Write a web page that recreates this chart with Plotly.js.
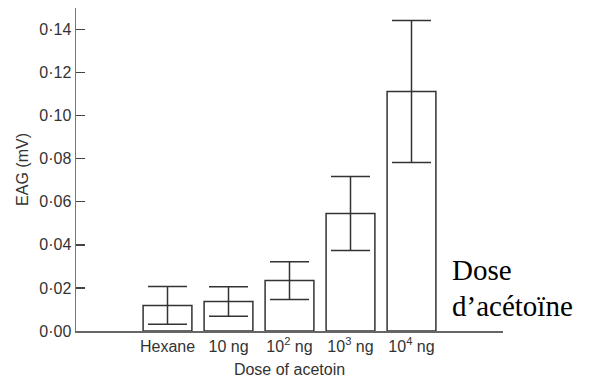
<!DOCTYPE html>
<html>
<head>
<meta charset="utf-8">
<script src="https://cdn.plot.ly/plotly-3.0.1.min.js"></script>
<style>html,body{margin:0;padding:0;background:#fff}#chart{width:597px;height:378px}</style>
</head>
<body>
<div id="chart"></div>
<script>
const categories = ["Hexane", "10 ng", "10<sup>2</sup> ng", "10<sup>3</sup> ng", "10<sup>4</sup> ng"];
const positions = [1, 2, 3, 4, 5];
const eagMean = [0.0119, 0.0137, 0.0234, 0.0546, 0.1112];
const eagError = [0.0088, 0.0068, 0.0088, 0.0172, 0.0330];
const yTickVals = [0, 0.02, 0.04, 0.06, 0.08, 0.10, 0.12, 0.14];
const yTickText = ["0·00", "0·02", "0·04", "0·06", "0·08", "0·10", "0·12", "0·14"];

const trace = {
  type: "bar",
  x: positions,
  y: eagMean,
  width: 0.8,
  marker: {color: "#ffffff", line: {color: "#333333", width: 1.5}},
  error_y: {type: "data", array: eagError, visible: true, color: "#333333", thickness: 1.5, width: 19.5},
  hoverinfo: "none"
};

const layout = {
  width: 597, height: 378,
  margin: {l: 76, r: 94, t: 8, b: 47, pad: 0},
  paper_bgcolor: "#ffffff", plot_bgcolor: "#ffffff",
  showlegend: false,
  font: {family: "Liberation Sans, Arial, sans-serif", color: "#333333", size: 16},
  xaxis: {
    range: [-0.5, 6.5],
    tickvals: positions, ticktext: categories,
    showgrid: false, zeroline: false,
    showline: true, linecolor: "#666666", linewidth: 1.5,
    ticks: "",
    tickfont: {size: 16, color: "#333333"},
    title: {text: "Dose of acetoin", font: {size: 16, color: "#333333"}, standoff: 10}
  },
  yaxis: {
    range: [0, 0.15],
    tickvals: yTickVals, ticktext: yTickText,
    showgrid: false, zeroline: false,
    showline: true, linecolor: "#777777", linewidth: 1.5,
    ticks: "inside", ticklen: 9, tickwidth: 1.3, tickcolor: "#444444",
    tickfont: {size: 16, color: "#333333"},
    ticklabelstandoff: 0,
    title: {text: "EAG (mV)", font: {size: 16, color: "#333333"}, standoff: 6}
  },
  annotations: [
    {text: "Dose", xref: "paper", yref: "y", x: 0.876, y: 0.0284, xanchor: "left", yanchor: "middle", showarrow: false,
     font: {family: "Liberation Serif, Times New Roman, serif", size: 29, color: "#000000"}},
    {text: "d’acétoïne", xref: "paper", yref: "y", x: 0.876, y: 0.0116, xanchor: "left", yanchor: "middle", showarrow: false,
     font: {family: "Liberation Serif, Times New Roman, serif", size: 29, color: "#000000"}}
  ]
};

Plotly.newPlot("chart", [trace], layout, {staticPlot: true, displayModeBar: false});
</script>
</body>
</html>
